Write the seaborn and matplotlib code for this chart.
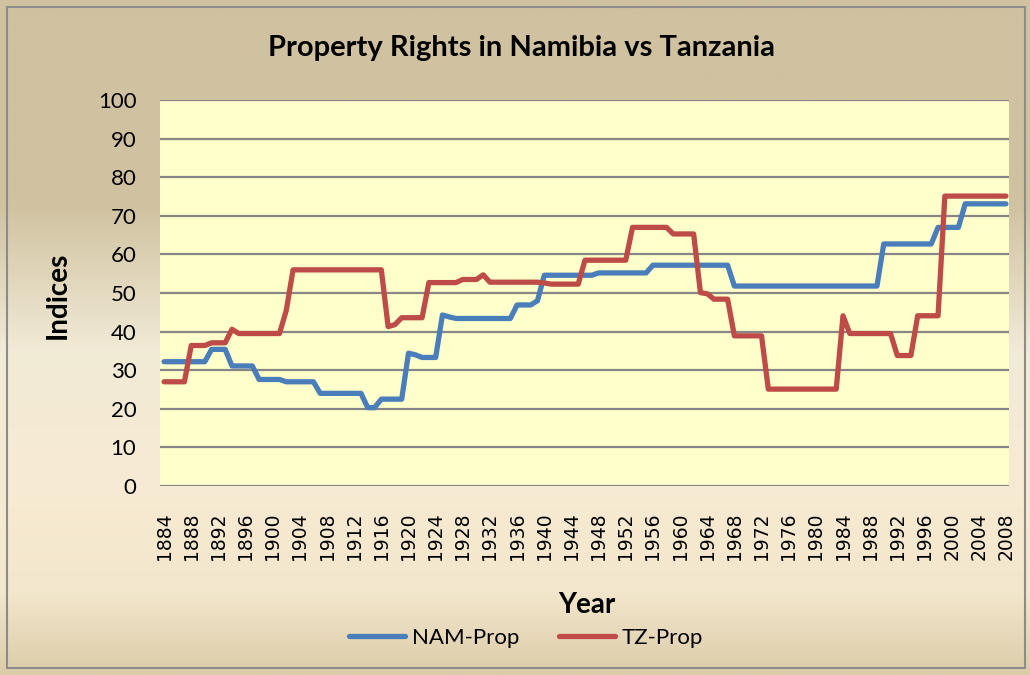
import numpy as np
import pandas as pd
import matplotlib
matplotlib.use("Agg")
import matplotlib.pyplot as plt
import matplotlib.colors as mcolors
from matplotlib.patches import Rectangle
import seaborn as sns

# values, one per year 1884..2008
years = list(range(1884, 2009))

nam_prop = [
    32.2, 32.2, 32.2, 32.2, 32.2, 32.2, 32.2,          # 1884-1890
    35.4, 35.4, 35.4,                                  # 1891-1893
    31.1, 31.1, 31.1, 31.1,                            # 1894-1897
    27.6, 27.6, 27.6, 27.6,                            # 1898-1901
    27.0, 27.0, 27.0, 27.0, 27.0,                      # 1902-1906
    24.0, 24.0, 24.0, 24.0, 24.0, 24.0, 24.0,          # 1907-1913
    20.3, 20.3,                                        # 1914-1915
    22.5, 22.5, 22.5, 22.5,                            # 1916-1919
    34.4, 34.0,                                        # 1920-1921
    33.3, 33.3, 33.3,                                  # 1922-1924
    44.3, 43.8,                                        # 1925-1926
    43.4, 43.4, 43.4, 43.4, 43.4, 43.4, 43.4, 43.4, 43.4,  # 1927-1935
    46.9, 46.9, 46.9, 48.0,                            # 1936-1939
    54.6, 54.6, 54.6, 54.6, 54.6, 54.6, 54.6, 54.6,    # 1940-1947
    55.2, 55.2, 55.2, 55.2, 55.2, 55.2, 55.2, 55.2,    # 1948-1955
    57.2, 57.2, 57.2, 57.2, 57.2, 57.2, 57.2, 57.2, 57.2, 57.2, 57.2, 57.2,  # 1956-1967
    51.8, 51.8, 51.8, 51.8, 51.8, 51.8, 51.8, 51.8, 51.8, 51.8, 51.8,
    51.8, 51.8, 51.8, 51.8, 51.8, 51.8, 51.8, 51.8, 51.8, 51.8, 51.8,  # 1968-1989
    62.7, 62.7, 62.7, 62.7, 62.7, 62.7, 62.7, 62.7,    # 1990-1997
    67.0, 67.0, 67.0, 67.0,                            # 1998-2001
    73.1, 73.1, 73.1, 73.1, 73.1, 73.1, 73.1,          # 2002-2008
]

tz_prop = [
    27.0, 27.0, 27.0, 27.0,                            # 1884-1887
    36.4, 36.4, 36.4,                                  # 1888-1890
    37.1, 37.1, 37.1,                                  # 1891-1893
    40.6,                                              # 1894
    39.5, 39.5, 39.5, 39.5, 39.5, 39.5, 39.5,          # 1895-1901
    45.5,                                              # 1902
    56.0, 56.0, 56.0, 56.0, 56.0, 56.0, 56.0,
    56.0, 56.0, 56.0, 56.0, 56.0, 56.0, 56.0,          # 1903-1916
    41.3, 41.8,                                        # 1917-1918
    43.6, 43.6, 43.6, 43.6,                            # 1919-1922
    52.7, 52.7, 52.7, 52.7, 52.7,                      # 1923-1927
    53.5, 53.5, 53.5, 54.7,                            # 1928-1931
    52.8, 52.8, 52.8, 52.8, 52.8, 52.8, 52.8, 52.8,    # 1932-1939
    52.6, 52.3, 52.3, 52.3, 52.3, 52.3,                # 1940-1945
    58.5, 58.5, 58.5, 58.5, 58.5, 58.5, 58.5,          # 1946-1952
    67.0, 67.0, 67.0, 67.0, 67.0, 67.0,                # 1953-1958
    65.3, 65.3, 65.3, 65.3,                            # 1959-1962
    50.1, 49.8, 48.4, 48.4, 48.4,                      # 1963-1967
    38.9, 38.9, 38.9, 38.9, 38.9,                      # 1968-1972
    25.1, 25.1, 25.1, 25.1, 25.1, 25.1, 25.1, 25.1, 25.1, 25.1, 25.1,  # 1973-1983
    44.1,                                              # 1984
    39.5, 39.5, 39.5, 39.5, 39.5, 39.5, 39.5,          # 1985-1991
    33.8, 33.8, 33.8,                                  # 1992-1994
    44.1, 44.1, 44.1, 44.1,                            # 1995-1998
    75.1, 75.1, 75.1, 75.1, 75.1, 75.1, 75.1, 75.1, 75.1, 75.1,  # 1999-2008
]

series_names = ["NAM-Prop", "TZ-Prop"]
series_colors = ["#4A7EBB", "#BE4B48"]
x_ticks = list(range(1884, 2009, 4))
y_ticks = list(range(0, 101, 10))

df = pd.DataFrame({
    "Year": years * 2,
    "Indices": nam_prop + tz_prop,
    "series": [series_names[0]] * len(years) + [series_names[1]] * len(years),
})

sns.set_style("white")
plt.rcParams["font.family"] = ["Lato", "DejaVu Sans"]
plt.rcParams["text.color"] = "black"
plt.rcParams["xtick.color"] = "black"
plt.rcParams["ytick.color"] = "black"

fig = plt.figure(figsize=(10.3, 6.75), dpi=100)

# parchment-like gradient behind the chart (row 0 = top)
bg = fig.add_axes([0, 0, 1, 1], zorder=-10)
cmap = mcolors.LinearSegmentedColormap.from_list(
    "parch",
    [(0.0, "#D0C2A0"), (0.30, "#D0C2A0"), (0.52, "#F1EAD6"),
     (0.72, "#F8EBD3"), (0.88, "#F2E6CC"), (1.0, "#DCCCA8")])
bg.imshow(np.linspace(0, 1, 256)[:, None], aspect="auto", cmap=cmap,
          extent=[0, 1, 0, 1], origin="upper")
bg.set_xlim(0, 1)
bg.set_ylim(0, 1)
bg.axis("off")
bg.add_patch(Rectangle((0.007, 0.01), 0.988, 0.98, fill=False,
                       edgecolor="#8C8C8C", lw=1.5))

ax = fig.add_axes([160 / 1030, 1 - 486 / 675, 849 / 1030, 386 / 675])
ax.set_facecolor("#FFFFCC")

sns.lineplot(data=df, x="Year", y="Indices", hue="series",
             palette=dict(zip(series_names, series_colors)),
             linewidth=3.8, ax=ax, zorder=3)

ax.set_xlim(1883.4, 2008.45)
ax.set_ylim(0, 100)
ax.set_yticks(y_ticks)
ax.set_xticks(x_ticks)
ax.set_xticklabels([str(t) for t in x_ticks], rotation=90,
                   fontsize=13.5, family=["DejaVu Sans"])
ax.tick_params(axis="x", length=0, pad=19)
ax.tick_params(axis="y", length=0, pad=17, labelsize=16)
ax.grid(axis="y", color="#868686", lw=1.6, zorder=1)
ax.grid(axis="x", visible=False)
for s in ax.spines.values():
    s.set_visible(False)
ax.set_xlabel("")
ax.set_ylabel("")

handles, labels = ax.get_legend_handles_labels()
ax.get_legend().remove()
leg = fig.legend(handles, labels, loc="center", ncol=2, frameon=False,
                 bbox_to_anchor=(526 / 1030, 1 - 638 / 675),
                 fontsize=16, handlelength=2.5, columnspacing=1.8,
                 handletextpad=0.3)
for h in leg.get_lines():
    h.set_linewidth(3.8)

fig.text(522 / 1030, 1 - 48 / 675, "Property Rights in Namibia vs Tanzania",
         ha="center", va="center", fontsize=21, fontweight="bold")
fig.text(58 / 1030, 1 - 295 / 675, "Indices", ha="center", va="center",
         rotation=90, fontsize=20, fontweight="bold")
fig.text(587 / 1030, 1 - 605 / 675, "Year", ha="center", va="center",
         fontsize=20, fontweight="bold")

fig.savefig("out.png", dpi=100)
